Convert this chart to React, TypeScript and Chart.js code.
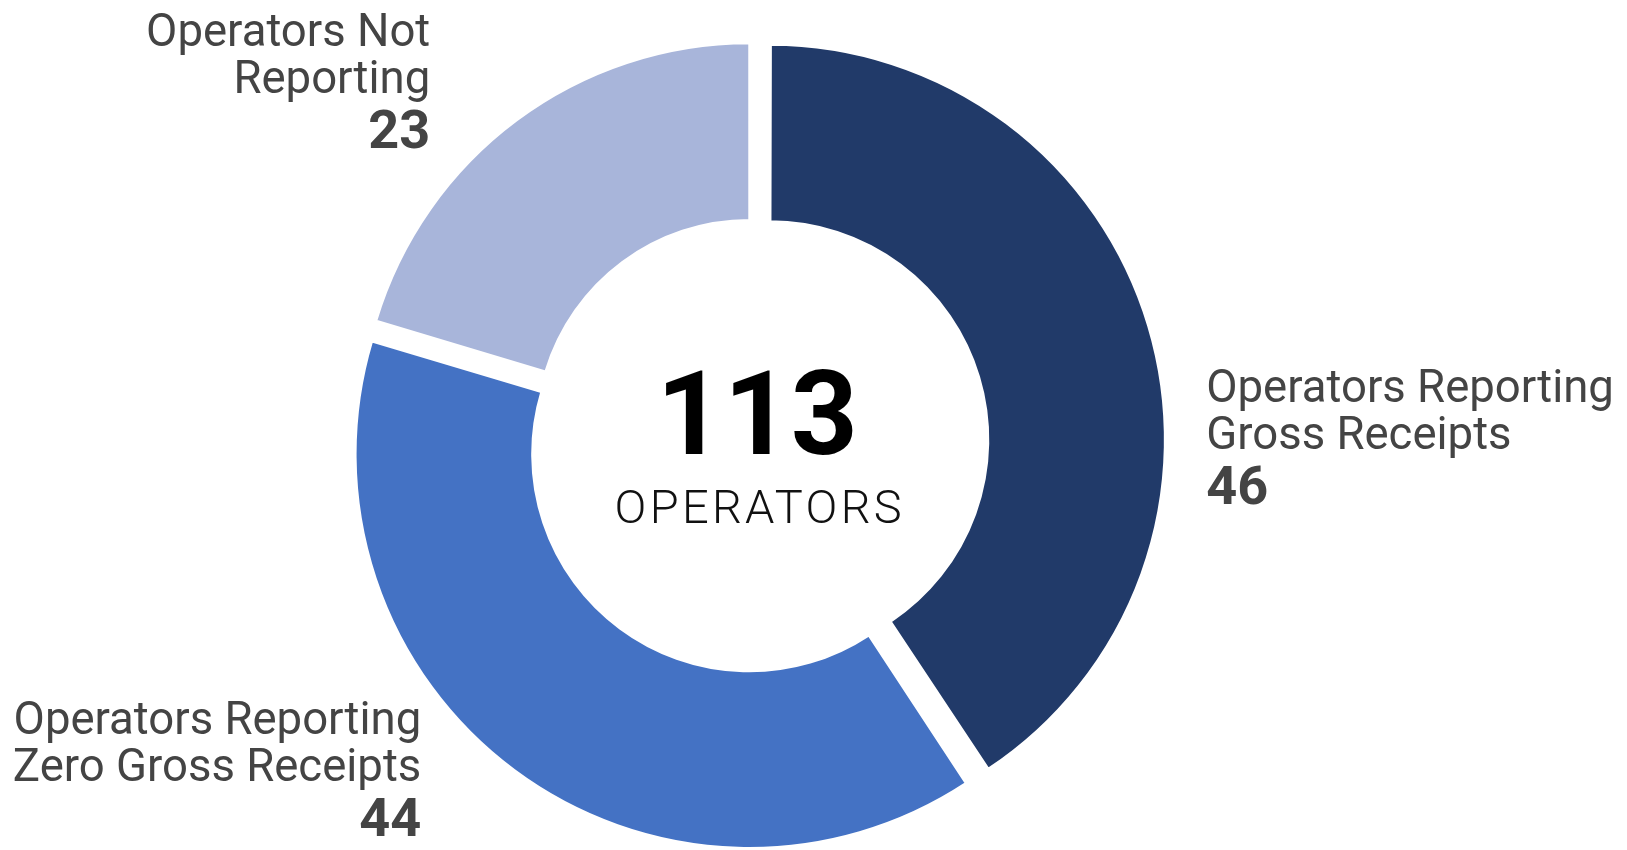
import React, { useEffect, useRef } from "react";
import { Chart, registerables } from "chart.js";

Chart.register(...registerables);

// ---- data ----
const categories = [
  "Operators Reporting Gross Receipts",
  "Operators Reporting Zero Gross Receipts",
  "Operators Not Reporting",
];
const labelLines = [
  ["Operators Reporting", "Gross Receipts"],
  ["Operators Reporting", "Zero Gross Receipts"],
  ["Operators Not", "Reporting"],
];
const values = [46, 44, 23];
const sliceColors = ["#213A69", "#4472C4", "#A8B5DA"];
const centerCaption = "OPERATORS";

// label anchor placement relative to the doughnut centre (px)
const labelAnchors = [
  { dx: 449, dy: -42, align: "left" as CanvasTextAlign },
  { dx: -336, dy: 290, align: "right" as CanvasTextAlign },
  { dx: -327, dy: -398, align: "right" as CanvasTextAlign },
];

const textPlugin = {
  id: "doughnutText",
  afterDatasetsDraw(chart: any) {
    const meta = chart.getDatasetMeta(0);
    const arc = meta.data[0];
    if (!arc) return;
    const cx = arc.x;
    const cy = arc.y;
    const ctx: CanvasRenderingContext2D = chart.ctx;
    const data = chart.data.datasets[0].data as number[];
    const total = data.reduce((a, b) => a + b, 0);
    ctx.save();
    ctx.textBaseline = "alphabetic";
    // centre
    ctx.textAlign = "center";
    ctx.fillStyle = "#000000";
    ctx.font = "bold 117px Roboto";
    ctx.fillText(String(total), cx, cy + 10.5);
    ctx.font = "300 47px Roboto";
    (ctx as any).letterSpacing = "3.3px";
    ctx.fillStyle = "#111111";
    ctx.fillText(centerCaption, cx + 2.5, cy + 79);
    (ctx as any).letterSpacing = "0px";
    // side labels
    labelLines.forEach((lines, i) => {
      const a = labelAnchors[i];
      const x = cx + a.dx;
      let y = cy + a.dy;
      ctx.textAlign = a.align;
      ctx.fillStyle = "#444444";
      ctx.font = "400 45.5px Roboto";
      lines.forEach((ln, k) => {
        ctx.fillText(ln, x, y + k * 47.7);
      });
      y += (lines.length - 1) * 47.7 + 54.5;
      ctx.font = "bold 54px Roboto";
      ctx.fillText(String(data[i]), x, y);
    });
    ctx.restore();
  },
};

export default function App() {
  const ref = useRef<HTMLCanvasElement | null>(null);
  useEffect(() => {
    if (!ref.current) return;
    const chart = new Chart(ref.current, {
      type: "doughnut",
      data: {
        labels: categories,
        datasets: [
          {
            data: values,
            backgroundColor: sliceColors,
            borderColor: "#ffffff",
            borderWidth: 2,
            offset: 53,
            hoverOffset: 0,
            clip: false as any,
          },
        ],
      },
      options: {
        responsive: true,
        maintainAspectRatio: false,
        animation: false,
        radius: 389,
        cutout: "54.6%",
        layout: { padding: { left: 0, right: 112.5, top: 37, bottom: 0 } },
        plugins: {
          legend: { display: false },
          tooltip: { enabled: false },
          title: { display: false },
        },
        events: [],
      } as any,
      plugins: [textPlugin],
    });
    return () => chart.destroy();
  }, []);
  return (
    <div style={{ position: "absolute", left: 0, top: 0, width: 1627, height: 850, background: "#fff" }}>
      <canvas ref={ref} />
    </div>
  );
}
